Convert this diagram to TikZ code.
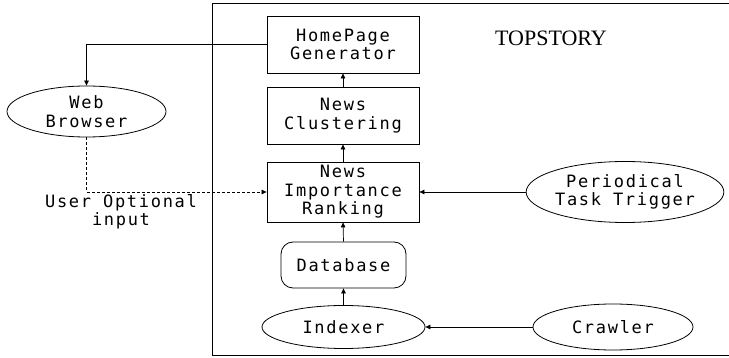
\documentclass[tikz,border=0pt]{standalone}
\usepackage{fontspec}
\setmainfont{Liberation Serif}
\newfontfamily\gul[LetterSpace=10]{DejaVu Sans Mono}
\usetikzlibrary{shapes.geometric,arrows.meta}
\begin{document}
\begin{tikzpicture}[x=1pt,y=-1pt,
  every node/.style={inner sep=0pt,font=\gul\fontsize{17}{18.5}\selectfont,align=center},
  box/.style={draw,line width=0.8pt,rectangle,minimum width=152pt,minimum height=57pt},
  rbox/.style={draw,line width=0.8pt,rectangle,rounded corners=12pt,minimum width=125pt,minimum height=46pt},
  ell/.style={draw,line width=0.8pt,ellipse},
  conn/.style={line width=0.7pt,-{Triangle[length=5pt,width=4.5pt]}},
  dconn/.style={conn,dash pattern=on 3pt off 2pt}]
\useasboundingbox (0,0) rectangle (729,358);
\fill[white] (0,0) rectangle (729,358);
% frame
\draw[line width=0.8pt] (730,3) -- (212,3) -- (212,355) -- (730,355);
\node (title) at (551,38) {\fontsize{22}{24}\selectfont\rmfamily TOPSTORY};
\node[box] (hp) at (343,44.5) {HomePage\\Generator};
\node[box] (nc) at (343,115.5) {News\\Clustering};
\node[box,minimum height=60pt] (nr) at (343,192) {News\\Importance\\Ranking};
\node[rbox] (db) at (343.5,265) {Database};
\node[ell,minimum width=163pt,minimum height=43pt] (ix) at (343.5,327) {Indexer};
\node[ell,minimum width=160pt,minimum height=46pt] (cr) at (613,327) {Crawler};
\node[ell,minimum width=194pt,minimum height=61pt] (pt) at (625,192) {Periodical\\Task Trigger};
\node[ell,minimum width=159pt,minimum height=51pt] (wb) at (86.5,111.5) {Web\\Browser};
\node (uo) at (121,212) {User Optional\\input};
% connectors
\draw[conn] (hp.west) -| (wb.north);
\draw[dconn] (wb.south) |- (nr.west);
\draw[conn] (pt.west) -- (nr.east);
\draw[conn] (cr.west) -- (ix.east);
\draw[conn] (ix.north) -- (db.south);
\draw[conn] (db.north) -- (nr.south);
\draw[conn] (nr.north) -- (nc.south);
\draw[conn] (nc.north) -- (hp.south);
\end{tikzpicture}
\end{document}
